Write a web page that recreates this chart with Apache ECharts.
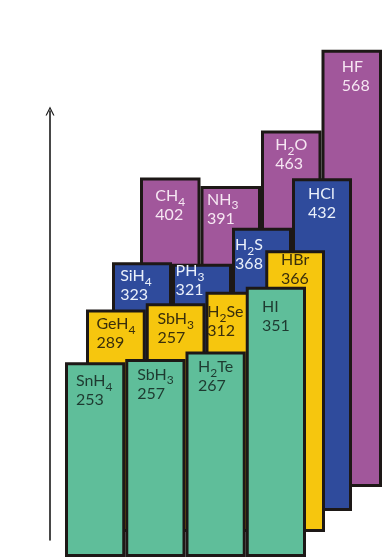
<!DOCTYPE html>
<html>
<head>
<meta charset="utf-8">
<script src="https://cdn.jsdelivr.net/npm/echarts@6/dist/echarts.min.js"></script>
<style>
html,body{margin:0;padding:0;background:#fff;}
#chart{width:383px;height:560px;}
</style>
</head>
<body>
<div id="chart"></div>
<script>
// Data (bond energies, kJ/mol) — back row to front row
const period2Formulas = ['CH4', 'NH3', 'H2O', 'HF'];
const period2Energy   = [402, 391, 463, 568];
const period2Printed  = [402, 391, 463, 568];

const period3Formulas = ['SiH4', 'PH3', 'H2S', 'HCl'];
const period3Energy   = [323, 321, 368, 432];
const period3Printed  = [323, 321, 368, 432];

const period4Formulas = ['GeH4', 'SbH3', 'H2Se', 'HBr'];
const period4Energy   = [289, 297, 312, 366];   // bar heights as drawn
const period4Printed  = [289, 257, 312, 366];   // numbers as printed

const period5Formulas = ['SnH4', 'SbH3', 'H2Te', 'HI'];
const period5Energy   = [253, 257, 267, 351];
const period5Printed  = [253, 257, 267, 351];

// Layout / style (kept apart from data)
const rows = [
  {f: period2Formulas, v: period2Energy, p: period2Printed, color: '#A1579B', text: '#F6E6F2', left: 140, bottomY: 487, width: 242},
  {f: period3Formulas, v: period3Energy, p: period3Printed, color: '#2F4B9C', text: '#EAF0FA', left: 112, bottomY: 511, width: 240},
  {f: period4Formulas, v: period4Energy, p: period4Printed, color: '#F6C60E', text: '#3A2F0C', left: 86,  bottomY: 532, width: 239},
  {f: period5Formulas, v: period5Energy, p: period5Printed, color: '#5FBE9A', text: '#1E3A30', left: 65,  bottomY: 557, width: 241}
];
const labelNudge = {
  'CH4': [0, 3], 'NH3': [-8, -2], 'H2O': [0, -1], 'HF': [4, 2],
  'SiH4': [-6, -2], 'PH3': [-12, -8], 'H2S': [-13, 2],
  'GeH4': [0, -1], 'H2Se': [-10, 5], 'HBr': [0, -6],
  'SnH4': [-1, 3], 'HI': [0, 5]
};
const Y_MAX = 600, PX_PER_UNIT = 0.77;
const gridH = Y_MAX * PX_PER_UNIT;
const FONT = 'Lato, "DejaVu Sans", sans-serif';

function richLabel(formula, printed) {
  const parts = formula.split(/(\d+)/).filter(Boolean)
    .map(p => /^\d+$/.test(p) ? '{s|' + p + '}' : '{m|' + p + '}').join('');
  return parts + '\n{m|' + printed + '}';
}

const grids = [], xAxes = [], yAxes = [], series = [];
rows.forEach((r, i) => {
  grids.push({left: r.left, top: r.bottomY - gridH, width: r.width, height: gridH});
  xAxes.push({type: 'category', gridIndex: i, data: r.f, show: false, boundaryGap: true});
  yAxes.push({type: 'value', gridIndex: i, min: 0, max: Y_MAX, show: false});
  series.push({
    type: 'bar', xAxisIndex: i, yAxisIndex: i, z: 2 + i,
    barWidth: '100%', barCategoryGap: 0, clip: false,
    itemStyle: {color: r.color, borderColor: '#1d1816', borderWidth: 3},
    data: r.v.map((val, k) => {
      const n = labelNudge[r.f[k]] || [0, 0];
      return {
        value: val,
        label: {formatter: richLabel(r.f[k], r.p[k]), offset: n}
      };
    }),
    label: {
      show: true, position: 'insideTop', distance: 6,
      rich: {
        m: {fontFamily: FONT, fontSize: 16, lineHeight: 19, color: r.text, align: 'left'},
        s: {fontFamily: FONT, fontSize: 12, lineHeight: 12, padding: [12, 0, 0, 0], color: r.text, align: 'left'}
      }
    },
    emphasis: {disabled: true},
    animation: false
  });
});

// Vertical arrow (axis line only)
const ai = rows.length;
grids.push({left: 50, top: 111, width: 10, height: 429});
xAxes.push({type: 'value', gridIndex: ai, show: false});
yAxes.push({
  type: 'value', gridIndex: ai, min: 0, max: 1, position: 'left',
  axisLine: {show: true, onZero: false,
    symbol: ['none', 'path://M0,10 L5,0 L10,10 L8.6,10 L5,2.8 L1.4,10 Z'],
    symbolSize: [14, 9],
    lineStyle: {color: '#1a1a1a', width: 1.6}},
  axisTick: {show: false}, axisLabel: {show: false}, splitLine: {show: false}
});

const chart = echarts.init(document.getElementById('chart'), null, {renderer: 'canvas'});
chart.setOption({
  animation: false,
  backgroundColor: '#ffffff',
  grid: grids, xAxis: xAxes, yAxis: yAxes, series: series
});
</script>
</body>
</html>
